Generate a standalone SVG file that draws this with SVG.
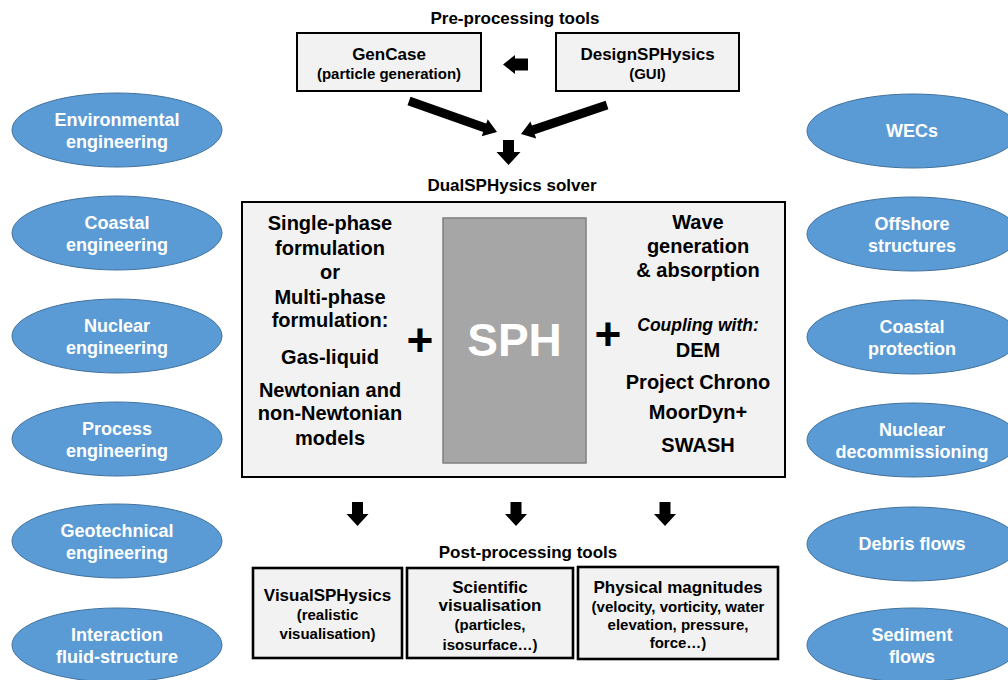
<svg xmlns="http://www.w3.org/2000/svg" width="1008" height="680" viewBox="0 0 1008 680">
<style>
text{font-family:"Liberation Sans",Arial,sans-serif;font-weight:bold;text-anchor:middle;fill:#000}
.ell{fill:#5b9bd5;stroke:#41719c;stroke-width:1}
.et{fill:#fff;font-size:18px}
.box{fill:#f2f2f2;stroke:#000;stroke-width:2}
.pbox{fill:#f2f2f2;stroke:#000;stroke-width:2.6}
.h{font-size:17px}
.s{font-size:15px}
.m{font-size:20px}
.arr{fill:#000}
</style>
<rect width="1008" height="680" fill="#fff"/>

<g id="left-nodes">
<g id="env"><ellipse class="ell" cx="117" cy="130" rx="105" ry="37"/><text class="et" x="117" y="126">Environmental</text><text class="et" x="117" y="148">engineering</text></g>
<g id="coastal-eng"><ellipse class="ell" cx="117" cy="233" rx="105" ry="37"/><text class="et" x="117" y="229">Coastal</text><text class="et" x="117" y="251">engineering</text></g>
<g id="nuclear-eng"><ellipse class="ell" cx="117" cy="336" rx="105" ry="37"/><text class="et" x="117" y="332">Nuclear</text><text class="et" x="117" y="354">engineering</text></g>
<g id="process-eng"><ellipse class="ell" cx="117" cy="439" rx="105" ry="37"/><text class="et" x="117" y="435">Process</text><text class="et" x="117" y="457">engineering</text></g>
<g id="geo-eng"><ellipse class="ell" cx="117" cy="541" rx="105" ry="37"/><text class="et" x="117" y="537">Geotechnical</text><text class="et" x="117" y="559">engineering</text></g>
<g id="fsi"><ellipse class="ell" cx="117" cy="645" rx="105" ry="37"/><text class="et" x="117" y="641">Interaction</text><text class="et" x="117" y="663">fluid-structure</text></g>
</g>

<g id="right-nodes">
<g id="wecs"><ellipse class="ell" cx="913" cy="131" rx="106" ry="37"/><text class="et" x="912" y="137">WECs</text></g>
<g id="offshore"><ellipse class="ell" cx="913" cy="234" rx="106" ry="37"/><text class="et" x="912" y="230">Offshore</text><text class="et" x="912" y="252">structures</text></g>
<g id="coastal-prot"><ellipse class="ell" cx="913" cy="337" rx="106" ry="37"/><text class="et" x="912" y="333">Coastal</text><text class="et" x="912" y="355">protection</text></g>
<g id="nuclear-dec"><ellipse class="ell" cx="913" cy="440" rx="106" ry="37"/><text class="et" x="912" y="436">Nuclear</text><text class="et" x="912" y="458">decommissioning</text></g>
<g id="debris"><ellipse class="ell" cx="913" cy="544" rx="106" ry="37"/><text class="et" x="912" y="550">Debris flows</text></g>
<g id="sediment"><ellipse class="ell" cx="913" cy="645" rx="106" ry="37"/><text class="et" x="912" y="641">Sediment</text><text class="et" x="912" y="663">flows</text></g>
</g>

<g id="pre-processing">
<text class="h" x="515" y="24">Pre-processing tools</text>
<g id="gencase"><rect class="box" x="297" y="33" width="184" height="58"/><text class="h" x="389" y="60">GenCase</text><text class="s" x="389" y="79">(particle generation)</text></g>
<g id="designsphysics"><rect class="box" x="556" y="33" width="183" height="58"/><text class="h" x="647.5" y="60">DesignSPHysics</text><text class="s" x="647.5" y="79">(GUI)</text></g>
</g>

<g id="solver">
<text class="h" x="512" y="191">DualSPHysics solver</text>
<rect class="box" x="242" y="202" width="543" height="275"/>
<g id="sph"><rect x="443" y="218" width="143" height="245" fill="#a6a6a6" stroke="#7f7f7f" stroke-width="1.5"/><text x="514.5" y="356" style="font-size:46px;fill:#fff">SPH</text></g>
<g id="formulation">
<text class="m" x="330" y="230">Single-phase</text>
<text class="m" x="330" y="255">formulation</text>
<text class="m" x="330" y="279">or</text>
<text class="m" x="330" y="304">Multi-phase</text>
<text class="m" x="330" y="327">formulation:</text>
<text class="m" x="330" y="364">Gas-liquid</text>
<text class="m" x="330" y="397">Newtonian and</text>
<text class="m" x="330" y="420">non-Newtonian</text>
<text class="m" x="330" y="445">models</text>
</g>
<g id="coupling">
<text class="m" x="698" y="229">Wave</text>
<text class="m" x="698" y="253">generation</text>
<text class="m" x="698" y="277">&amp; absorption</text>
<text x="698" y="331" style="font-size:17.5px;font-style:italic">Coupling with:</text>
<text class="m" x="698" y="357">DEM</text>
<text class="m" x="698" y="389">Project Chrono</text>
<text class="m" x="698" y="419">MoorDyn+</text>
<text class="m" x="698" y="452">SWASH</text>
</g>
<text x="420" y="356" style="font-size:46px">+</text>
<text x="608" y="350" style="font-size:46px">+</text>
</g>

<g id="post-processing">
<text class="h" x="528" y="558">Post-processing tools</text>
<g id="visualsphysics"><rect class="pbox" x="253" y="568" width="149" height="90"/><text class="h" x="327.5" y="601">VisualSPHysics</text><text class="s" x="327.5" y="620">(realistic</text><text class="s" x="327.5" y="639">visualisation)</text></g>
<g id="scientific"><rect class="pbox" x="407" y="568" width="166" height="90"/><text class="h" x="490" y="593">Scientific</text><text class="h" x="490" y="611">visualisation</text><text class="s" x="490" y="630">(particles,</text><text class="s" x="490" y="650">isosurface…)</text></g>
<g id="physical"><rect class="pbox" x="578" y="567" width="200" height="92"/><text class="h" x="678" y="593">Physical magnitudes</text><text class="s" x="678" y="612">(velocity, vorticity, water</text><text class="s" x="678" y="630">elevation, pressure,</text><text class="s" x="678" y="648">force…)</text></g>
</g>

<g id="connectors">
<polygon class="arr" points="503,64.5 515,55 515,58.5 528,58.5 528,70.5 515,70.5 515,74"/>
<polygon class="arr" points="410.5,96.8 486.2,123.5 487.7,119.2 497,132 481.7,136.2 483.2,131.9 407.5,105.2"/>
<polygon class="arr" points="605.6,100.7 531.9,125.6 530.4,121.4 521,134 536.2,138.4 534.7,134.2 608.4,109.3"/>
<polygon class="arr" points="503,140 514,140 514,152 520.5,152 508.5,165 496.5,152 503,152"/>
<polygon class="arr" points="352,502 363,502 363,514 368.5,514 357.5,526 346.5,514 352,514"/>
<polygon class="arr" points="510.5,502 521.5,502 521.5,514 527,514 516,526 505,514 510.5,514"/>
<polygon class="arr" points="659.5,502 670.5,502 670.5,514 676,514 665,526 654,514 659.5,514"/>
</g>
</svg>
